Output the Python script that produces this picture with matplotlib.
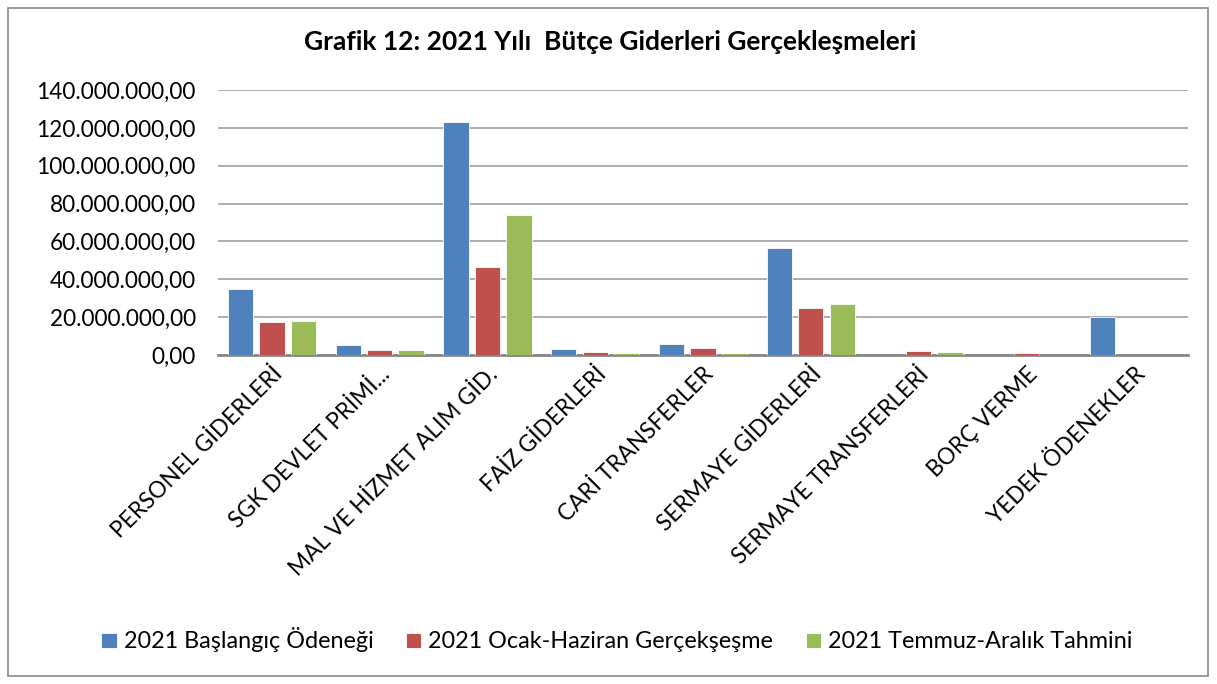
import matplotlib
matplotlib.use("Agg")
import matplotlib.pyplot as plt
import numpy as np
from matplotlib.ticker import FuncFormatter
from matplotlib.patches import Rectangle

categories = ["PERSONEL GİDERLERİ", "SGK DEVLET PRİMİ...", "MAL VE HİZMET ALIM GİD.",
              "FAİZ GİDERLERİ", "CARİ TRANSFERLER", "SERMAYE GİDERLERİ",
              "SERMAYE TRANSFERLERİ", "BORÇ VERME", "YEDEK ÖDENEKLER"]
baslangic = [35.0e6, 5.5e6, 123.0e6, 3.2e6, 5.8e6, 56.5e6, 0.0, 0.0, 20.0e6]
ocak_haziran = [17.5e6, 2.6e6, 46.5e6, 1.5e6, 3.8e6, 25.0e6, 2.0e6, 0.8e6, 0.0]
temmuz_aralik = [18.0e6, 2.6e6, 74.0e6, 1.2e6, 1.3e6, 27.0e6, 1.5e6, 0.0, 0.0]
series_names = ["2021 Başlangıç Ödeneği", "2021 Ocak-Haziran Gerçekşeşme", "2021 Temmuz-Aralık Tahmini"]
colors = ["#4F81BD", "#C0504D", "#9BBB59"]

plt.rcParams['font.family'] = ['Lato', 'DejaVu Sans']

fig = plt.figure(figsize=(12.17, 6.84), dpi=100)
ax = fig.add_axes([218/1217, 1-355/684, 970/1217, 265/684])

x = np.arange(len(categories))
w = 0.235
off = 0.292
for i, (vals, name) in enumerate(zip([baslangic, ocak_haziran, temmuz_aralik], series_names)):
    ax.bar(x + (i-1)*off, vals, width=w, color=colors[i], label=name,
           edgecolor='white', linewidth=0.6, zorder=3)

ax.set_xlim(-0.5, len(categories)-0.5)
ax.set_ylim(0, 140e6)
ax.set_yticks(np.arange(0, 140e6+1, 20e6))

def fmt(v, pos):
    s = f"{v:,.2f}"
    return s.replace(",", "X").replace(".", ",").replace("X", ".")
ax.yaxis.set_major_formatter(FuncFormatter(fmt))
ax.grid(axis='y', color='#A0A0A0', linewidth=1.2, zorder=0)
for s in ['top', 'right', 'left']:
    ax.spines[s].set_visible(False)
ax.spines['bottom'].set_color('#878787')
ax.spines['bottom'].set_linewidth(2)
ax.tick_params(axis='y', length=0, labelsize=16.3, pad=16)
ax.tick_params(axis='x', length=0, labelsize=16.3, pad=6)
ax.set_xticks(x)
ax.set_xticklabels(categories, rotation=45, ha='right', rotation_mode='anchor')

fig.text(610/1217, 1-42/684, "Grafik 12: 2021 Yılı  Bütçe Giderleri Gerçekleşmeleri",
         ha='center', va='center', fontsize=19, fontweight='bold')

fig.legend(loc='center', bbox_to_anchor=(617/1217, 1-640/684), ncol=3, frameon=False,
           fontsize=16.8, handlelength=0.65, handleheight=0.65, handletextpad=0.3,
           columnspacing=1.4)

fig.patches.append(Rectangle((8/1217, 8/684), 1200/1217, 668/684, transform=fig.transFigure,
                             fill=False, edgecolor='#878787', linewidth=1.2))

fig.savefig("out.png", dpi=100)
